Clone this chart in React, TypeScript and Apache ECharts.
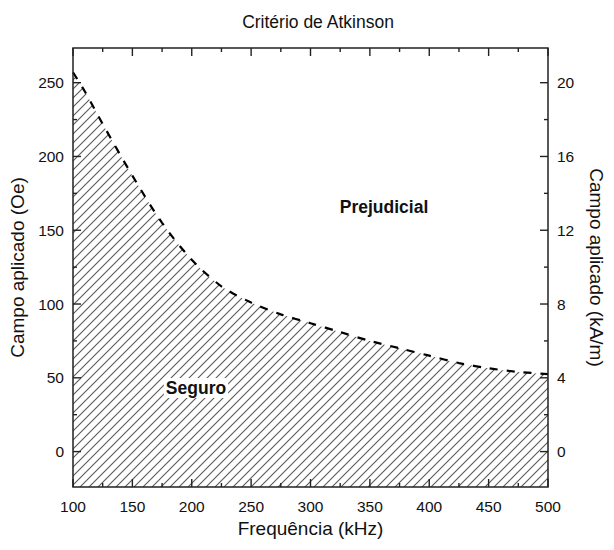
import React, { useEffect, useRef } from "react";
import * as echarts from "echarts";

const frequencies = [100, 110, 125, 150, 175, 200, 225, 250, 275, 300, 325, 350, 375, 400, 425, 450, 475, 500];
const fieldOe = [257, 244, 222, 187, 155, 130, 112, 101, 93, 87, 81, 75, 70, 65, 60, 56.5, 54, 52.5];
const freqMajorTicks = [100, 150, 200, 250, 300, 350, 400, 450, 500];
const freqMinorTicks = [125, 175, 225, 275, 325, 375, 425, 475];
const oeMajorTicks = [0, 50, 100, 150, 200, 250];
const oeMinorTicks = [25, 75, 125, 175, 225];
const kamMajorTicks = [0, 4, 8, 12, 16, 20];
const kamMinorTicks = [2, 6, 10, 14, 18];
const FREQ_MIN = 100;
const FREQ_MAX = 500;
const OE_MIN = -24;
const OE_MAX = 273.5;
const OE_PER_KAM = 12.5;

const FONT = "'Liberation Sans', Arial, Helvetica, sans-serif";
const LINE_COL = "#222";

function makeHatch(): HTMLCanvasElement {
  const s = 9;
  const c = document.createElement("canvas");
  c.width = s;
  c.height = s;
  const ctx = c.getContext("2d")!;
  ctx.strokeStyle = "#5a5a5a";
  ctx.lineWidth = 1.1;
  ctx.beginPath();
  ctx.moveTo(-1, s + 1);
  ctx.lineTo(s + 1, -1);
  ctx.moveTo(-2, 2);
  ctx.lineTo(2, -2);
  ctx.moveTo(s - 2, s + 2);
  ctx.lineTo(s + 2, s - 2);
  ctx.stroke();
  return c;
}

// scatter-based tick marks: symbol is a thin rect, offset to lie inside the frame
function xTicks(values: number[], len: number, atTop: boolean) {
  return {
    type: "scatter",
    xAxisIndex: 0,
    yAxisIndex: 0,
    silent: true,
    clip: false,
    z: 10,
    symbol: "rect",
    symbolSize: [1.4, len],
    symbolOffset: [0, atTop ? len / 2 : -len / 2],
    itemStyle: { color: LINE_COL, opacity: 1 },
    data: values.map((v) => [v, atTop ? OE_MAX : OE_MIN]),
  };
}

function yTicks(values: number[], len: number, yAxisIndex: number, min: number) {
  const right = yAxisIndex === 1;
  return {
    type: "scatter",
    xAxisIndex: 0,
    yAxisIndex,
    silent: true,
    clip: false,
    z: 10,
    symbol: "rect",
    symbolSize: [len, 1.4],
    symbolOffset: [right ? -len / 2 : len / 2, 0],
    itemStyle: { color: LINE_COL, opacity: 1 },
    data: values.map((v) => [right ? FREQ_MAX : FREQ_MIN, v]),
  };
}

export default function App() {
  const ref = useRef<HTMLDivElement>(null);
  useEffect(() => {
    if (!ref.current) return;
    const chart = echarts.init(ref.current, undefined, { renderer: "svg" });
    const data = frequencies.map((f, i) => [f, fieldOe[i]]);
    const labelStyle = { fontSize: 15.5, color: "#111", fontFamily: FONT };
    const nameStyle = { fontSize: 19, color: "#111", fontFamily: FONT };
    const option: any = {
      animation: false,
      backgroundColor: "#ffffff",
      title: {
        text: "Critério de Atkinson",
        left: 313,
        top: 8,
        textAlign: "center",
        textStyle: { fontSize: 17.5, fontWeight: "normal", color: "#111", fontFamily: FONT },
      },
      grid: { left: 73, right: 60, top: 48, bottom: 63, show: true, borderColor: LINE_COL, borderWidth: 1.5, z: 5 },
      xAxis: [
        {
          type: "value",
          position: "bottom",
          min: FREQ_MIN,
          max: FREQ_MAX,
          interval: 50,
          name: "Frequência (kHz)",
          nameLocation: "middle",
          nameGap: 32,
          nameTextStyle: nameStyle,
          axisLine: { show: false, onZero: false },
          axisTick: { show: false },
          axisLabel: { ...labelStyle, margin: 11 },
          splitLine: { show: false },
        },
      ],
      yAxis: [
        {
          type: "value",
          position: "left",
          min: OE_MIN,
          max: OE_MAX,
          name: "Campo aplicado (Oe)",
          nameLocation: "middle",
          nameGap: 45,
          nameTextStyle: nameStyle,
          axisLine: { show: false, onZero: false },
          axisTick: { show: false },
          axisLabel: { ...labelStyle, margin: 9, customValues: oeMajorTicks },
          splitLine: { show: false },
        },
        {
          type: "value",
          position: "right",
          min: OE_MIN / OE_PER_KAM,
          max: OE_MAX / OE_PER_KAM,
          name: "Campo aplicado (kA/m)",
          nameLocation: "middle",
          nameRotate: -90,
          nameGap: 39,
          nameTextStyle: nameStyle,
          axisLine: { show: false, onZero: false },
          axisTick: { show: false },
          axisLabel: { ...labelStyle, margin: 9, customValues: kamMajorTicks },
          splitLine: { show: false },
        },
      ],
      graphic: [
        {
          type: "text",
          x: 384,
          y: 207,
          z: 100,
          style: { text: "Prejudicial", fontSize: 17.5, fontWeight: "bold", fill: "#111", fontFamily: FONT, align: "center", verticalAlign: "middle" },
        },
        {
          type: "text",
          x: 196,
          y: 388,
          z: 100,
          style: { text: "Seguro", fontSize: 17.5, fontWeight: "bold", fill: "#111", fontFamily: FONT, align: "center", verticalAlign: "middle", backgroundColor: "#ffffff", padding: [1, 2] },
        },
      ],
      series: [
        {
          type: "line",
          xAxisIndex: 0,
          yAxisIndex: 0,
          data,
          smooth: 0.3,
          showSymbol: false,
          symbol: "none",
          lineStyle: { color: "#000", width: 2.2, type: [8, 9] },
          areaStyle: { origin: "start", opacity: 1, color: { image: makeHatch(), repeat: "repeat" } },
          z: 2,
        },
        xTicks(freqMajorTicks, 8, false),
        xTicks(freqMinorTicks, 4, false),
        xTicks(freqMajorTicks, 8, true),
        xTicks(freqMinorTicks, 4, true),
        yTicks(oeMajorTicks, 8, 0, OE_MIN),
        yTicks(oeMinorTicks, 4, 0, OE_MIN),
        yTicks(kamMajorTicks, 8, 1, OE_MIN / OE_PER_KAM),
        yTicks(kamMinorTicks, 4, 1, OE_MIN / OE_PER_KAM),
      ],
    };
    chart.setOption(option);
    return () => chart.dispose();
  }, []);
  return <div ref={ref} style={{ position: "absolute", left: 0, top: 0, width: 614, height: 550 }} />;
}
